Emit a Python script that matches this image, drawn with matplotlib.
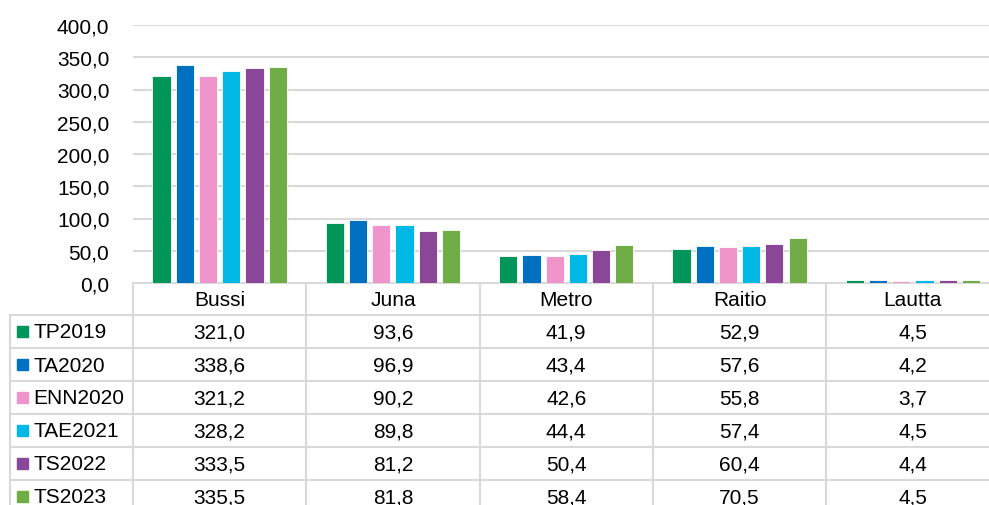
import numpy as np
import matplotlib
matplotlib.use("Agg")
from matplotlib import pyplot as plt
from matplotlib.patches import Rectangle

plt.rcParams['font.family'] = ['Liberation Sans', 'DejaVu Sans']

# data
categories = ["Bussi", "Juna", "Metro", "Raitio", "Lautta"]
series = ["TP2019", "TA2020", "ENN2020", "TAE2021", "TS2022", "TS2023"]
tp2019 = [321.0, 93.6, 41.9, 52.9, 4.5]
ta2020 = [338.6, 96.9, 43.4, 57.6, 4.2]
enn2020 = [321.2, 90.2, 42.6, 55.8, 3.7]
tae2021 = [328.2, 89.8, 44.4, 57.4, 4.5]
ts2022 = [333.5, 81.2, 50.4, 60.4, 4.4]
ts2023 = [335.5, 81.8, 58.4, 70.5, 4.5]
values = [tp2019, ta2020, enn2020, tae2021, ts2022, ts2023]
yticks = [0, 50, 100, 150, 200, 250, 300, 350, 400]
colors = ["#00965A", "#0070C0", "#F094CC", "#00B8E6", "#8B4797", "#70AD47"]

W, H = 989, 506
fig = plt.figure(figsize=(W / 100, H / 100), dpi=100)

# plot area in pixels
left, right = 133, 133 + 5 * 173.3
top, bottom = 26, 284
ax = fig.add_axes([left / W, 1 - bottom / H, (right - left) / W, (bottom - top) / H])
x = np.arange(len(categories))
step, bw = 0.134, 0.105
for j, (name, vals) in enumerate(zip(series, values)):
    ax.bar(x + (j - 2.5) * step, vals, bw, color=colors[j], edgecolor='white', lw=0.6, zorder=3)
ax.set_xlim(-0.5, len(categories) - 0.5)
ax.set_ylim(0, 400)
ax.set_yticks(yticks)
ax.set_yticklabels(["%.1f" % v for v in yticks])
ax.set_yticklabels([("%.1f" % v).replace('.', ',') for v in yticks], fontsize=15)
ax.tick_params(axis='y', length=0, pad=17)
ax.set_xticks([])
ax.yaxis.grid(True, color='#d9d9d9', lw=1.5, zorder=0)
for s in ax.spines.values():
    s.set_visible(False)
ax.set_clip_on(False)

# table overlay in pixel coords
tax = fig.add_axes([0, 0, 1, 1], zorder=-1)
tax.set_xlim(0, W)
tax.set_ylim(H, 0)
tax.axis('off')
lc, lw = '#d9d9d9', 1.5
colw = (right - left) / len(categories)
head_h = 31.5
row_h = 33
leg_left = 10
y_rows = [bottom + head_h + i * row_h for i in range(len(series) + 1)]

# header row
tax.plot([left, W + 20], [bottom, bottom], color=lc, lw=lw)
for i in range(len(categories) + 1):
    xc = left + i * colw
    tax.plot([xc, xc], [bottom, H + 20], color=lc, lw=lw)
tax.plot([leg_left, leg_left], [y_rows[0], H + 20], color=lc, lw=lw)
for yr in y_rows:
    tax.plot([leg_left, W + 20], [yr, yr], color=lc, lw=lw)

for i, c in enumerate(categories):
    tax.text(left + (i + 0.5) * colw, bottom + head_h / 2 + 1, c, ha='center', va='center', fontsize=15)

for j, name in enumerate(series):
    yc = y_rows[j] + row_h / 2 + 1
    tax.add_patch(Rectangle((17, yc - 6), 11, 11, color=colors[j]))
    tax.text(33, yc, name, ha='left', va='center', fontsize=15)
    for i, v in enumerate(values[j]):
        tax.text(left + (i + 0.5) * colw, yc, ("%.1f" % v).replace('.', ','),
                 ha='center', va='center', fontsize=15)

plt.savefig("out.png", dpi=100)
